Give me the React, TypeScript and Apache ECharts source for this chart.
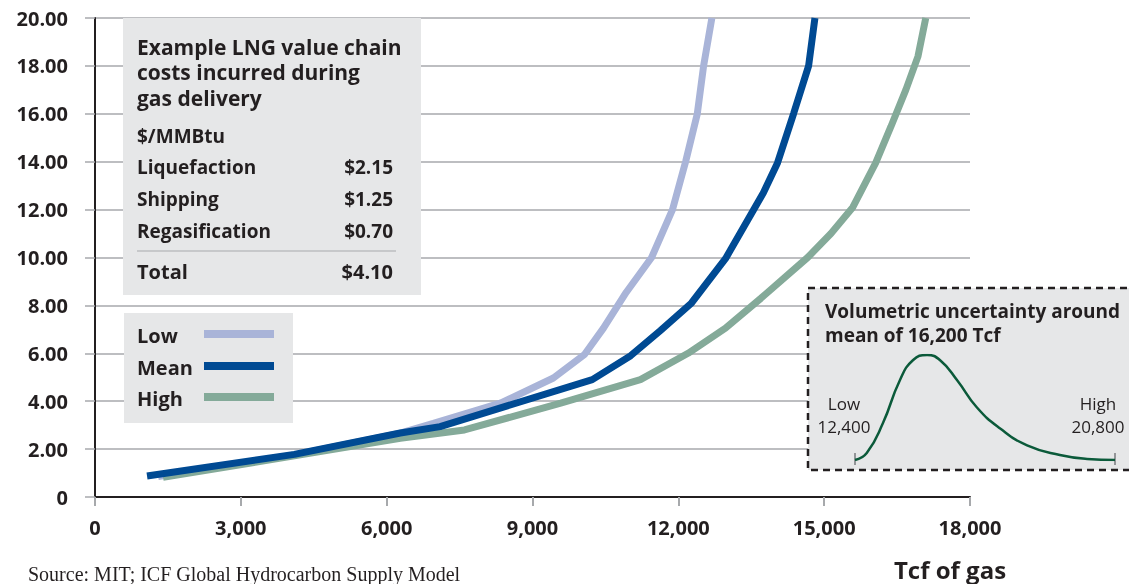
import React, { useEffect, useRef } from "react";
import * as echarts from "echarts";

// Main chart: cost ($/MMBtu) vs cumulative gas (Tcf)
const lowX = [1300, 4100, 6280, 6960, 8340, 9430, 10070, 10460, 10930, 11450, 11880, 12150, 12390, 12520, 12690];
const lowY = [0.85, 1.76, 2.67, 3.08, 3.92, 4.97, 5.95, 7.05, 8.55, 10.0, 12.0, 14.0, 16.0, 18.0, 20.0];

const meanX = [1070, 4100, 6280, 7100, 10230, 11020, 11630, 12270, 12970, 13750, 14040, 14370, 14680, 14810];
const meanY = [0.88, 1.78, 2.67, 2.94, 4.9, 5.9, 6.95, 8.1, 9.95, 12.7, 13.95, 16.0, 18.0, 20.0];

const highX = [1400, 4100, 6280, 7600, 9580, 11220, 12200, 12970, 13700, 14660, 15140, 15590, 16060, 16370, 16680, 16930, 17090];
const highY = [0.82, 1.72, 2.45, 2.8, 3.92, 4.9, 6.0, 7.05, 8.3, 10.0, 11.0, 12.1, 13.95, 15.45, 17.0, 18.4, 20.0];

// Inset: volumetric uncertainty distribution (relative density)
const distX = [12400, 12780, 13300, 13850, 14270, 14730, 15150, 15700, 16340, 17090, 17960, 19020, 19900, 20800];
const distY = [0, 0.067, 0.35, 0.76, 0.95, 1.0, 0.95, 0.76, 0.5, 0.3, 0.14, 0.048, 0.01, 0];

const boxTitle = ["Example LNG value chain", "costs incurred during", "gas delivery"];
const costItems = ["Liquefaction", "Shipping", "Regasification"];
const costValues = ["$2.15", "$1.25", "$0.70"];
const totalValue = "$4.10";

const seriesNames = ["Low", "Mean", "High"];
const seriesColors = ["#a9b4d8", "#004a93", "#84aa99"];

const FONT = "Open Sans";
const INK = "#231f20";

const pairs = (xs: number[], ys: number[]) => xs.map((x, i) => [x, ys[i]]);

export default function App() {
  const ref = useRef<HTMLDivElement>(null);
  useEffect(() => {
    if (!ref.current) return;
    const chart = echarts.init(ref.current, null, { renderer: "svg" });
    const rowYs = [167, 199, 231];
    const legendYs = [335, 367, 398];
    const txt = (x: number, y: number, text: string, font: string, align = "left", lineHeight = 22) => ({
      type: "text", z: 3, x, y, style: { text, font, fill: INK, align, verticalAlign: "middle", lineHeight },
    });
    const graphic: any[] = [
      // Info box
      { type: "rect", z: 1, shape: { x: 123, y: 18, width: 298, height: 277 }, style: { fill: "#e6e7e8" } },
      { type: "text", z: 3, x: 137, y: 34, style: { text: boxTitle.join("\n"), font: `bold 21px "${FONT}"`, fill: INK, align: "left", verticalAlign: "top", lineHeight: 25.5 } },
      txt(137, 136, "$/MMBtu", `bold 19px "${FONT}"`),
      ...costItems.flatMap((name, i) => [
        txt(137, rowYs[i], name, `bold 19px "${FONT}"`),
        txt(393, rowYs[i], costValues[i], `bold 19px "${FONT}"`, "right"),
      ]),
      { type: "line", z: 3, shape: { x1: 137, y1: 251, x2: 396, y2: 251 }, style: { stroke: "#a7a9ac", lineWidth: 1 } },
      txt(137, 271, "Total", `bold 20px "${FONT}"`),
      txt(393, 271, totalValue, `bold 20px "${FONT}"`, "right"),
      // Legend box
      { type: "rect", z: 1, shape: { x: 124, y: 313, width: 169, height: 110 }, style: { fill: "#e6e7e8" } },
      ...seriesNames.flatMap((name, i) => [
        txt(137, legendYs[i], name, `bold 20px "${FONT}"`),
        { type: "line", z: 3, shape: { x1: 204, y1: legendYs[i] - 1, x2: 274, y2: legendYs[i] - 1 }, style: { stroke: seriesColors[i], lineWidth: 8 } },
      ]),
      // Inset box
      { type: "rect", z: 1, shape: { x: 808, y: 288, width: 340, height: 182 }, style: { fill: "#e6e7e8", stroke: INK, lineWidth: 2.5, lineDash: [7, 5] } },
      txt(825, 311, "Volumetric uncertainty around", `bold 19px "${FONT}"`),
      txt(825, 335, "mean of 16,200 Tcf", `bold 19px "${FONT}"`),
      txt(844, 403, "Low", `17px "${FONT}"`, "center", 20),
      txt(844, 426, "12,400", `17px "${FONT}"`, "center", 20),
      txt(1098, 403, "High", `17px "${FONT}"`, "center", 20),
      txt(1098, 426, "20,800", `17px "${FONT}"`, "center", 20),
      { type: "line", z: 3, shape: { x1: 855, y1: 453, x2: 855, y2: 465 }, style: { stroke: "#939598", lineWidth: 2 } },
      { type: "line", z: 3, shape: { x1: 1115, y1: 453, x2: 1115, y2: 465 }, style: { stroke: "#939598", lineWidth: 2 } },
      // Axis title and source
      txt(950, 569, "Tcf of gas", `bold 24px "${FONT}"`, "center", 28),
      txt(28, 574, "Source: MIT; ICF Global Hydrocarbon Supply Model", `20px "Liberation Serif"`),
    ];

    chart.setOption({
      animation: false,
      textStyle: { fontFamily: FONT },
      grid: [
        { left: 95, top: 18, width: 875, height: 479 },
        { left: 855, top: 355, width: 260, height: 105 },
      ],
      xAxis: [
        {
          type: "value", min: 0, max: 18000, interval: 3000,
          axisLine: { show: true, lineStyle: { color: INK, width: 2 } },
          axisTick: { show: true, length: 9, lineStyle: { color: "#a7a9ac", width: 2 } },
          splitLine: { show: false },
          axisLabel: { margin: 20, color: INK, fontSize: 20, fontWeight: "bold", fontFamily: FONT, formatter: (v: number) => v.toLocaleString("en-US") },
        },
        { gridIndex: 1, type: "value", min: 12400, max: 20800, show: false },
      ],
      yAxis: [
        {
          type: "value", min: 0, max: 20, interval: 2,
          axisLine: { show: true, lineStyle: { color: INK, width: 2 } },
          axisTick: { show: true, length: 10, lineStyle: { color: "#a7a9ac", width: 1.5 } },
          splitLine: { show: true, lineStyle: { color: "#a7a9ac", width: 1.5 } },
          axisLabel: { margin: 27, color: INK, fontSize: 20, fontWeight: "bold", fontFamily: FONT, formatter: (v: number) => (v === 0 ? "0" : v.toFixed(2)) },
        },
        { gridIndex: 1, type: "value", min: 0, max: 1, show: false },
      ],
      series: [
        { name: "Low", type: "line", data: pairs(lowX, lowY), symbol: "none", lineStyle: { width: 7, color: seriesColors[0] }, z: 2 },
        { name: "High", type: "line", data: pairs(highX, highY), symbol: "none", lineStyle: { width: 7, color: seriesColors[2] }, z: 2 },
        { name: "Mean", type: "line", data: pairs(meanX, meanY), symbol: "none", lineStyle: { width: 7, color: seriesColors[1] }, z: 3 },
        { name: "dist", type: "line", xAxisIndex: 1, yAxisIndex: 1, data: pairs(distX, distY), symbol: "none", smooth: true, lineStyle: { width: 2.5, color: "#0b5a3a" }, z: 4 },
      ],
      graphic,
    });
    return () => chart.dispose();
  }, []);
  return <div ref={ref} style={{ position: "fixed", left: 0, top: 0, width: 1129, height: 584 }} />;
}
